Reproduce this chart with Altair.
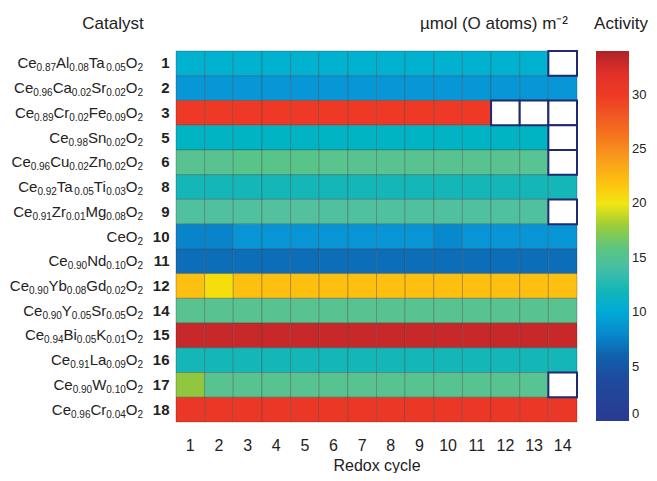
import altair as alt
import pandas as pd

# ---------------- data ----------------
ids = ["1", "2", "3", "5", "6", "8", "9", "10", "11", "12", "14", "15", "16", "17", "18"]
formulas = [
    "Ce_{0.87}Al_{0.08}Ta_{0.05}O_{2}",
    "Ce_{0.96}Ca_{0.02}Sr_{0.02}O_{2}",
    "Ce_{0.89}Cr_{0.02}Fe_{0.09}O_{2}",
    "Ce_{0.98}Sn_{0.02}O_{2}",
    "Ce_{0.96}Cu_{0.02}Zn_{0.02}O_{2}",
    "Ce_{0.92}Ta_{0.05}Ti_{0.03}O_{2}",
    "Ce_{0.91}Zr_{0.01}Mg_{0.08}O_{2}",
    "CeO_{2}",
    "Ce_{0.90}Nd_{0.10}O_{2}",
    "Ce_{0.90}Yb_{0.08}Gd_{0.02}O_{2}",
    "Ce_{0.90}Y_{0.05}Sr_{0.05}O_{2}",
    "Ce_{0.94}Bi_{0.05}K_{0.01}O_{2}",
    "Ce_{0.91}La_{0.09}O_{2}",
    "Ce_{0.90}W_{0.10}O_{2}",
    "Ce_{0.96}Cr_{0.04}O_{2}",
]
cycles = [1, 2, 3, 4, 5, 6, 7, 8, 9, 10, 11, 12, 13, 14]
N = None
activity = [
    [10.6, 10.6, 10.6, 10.6, 10.6, 10.6, 10.6, 10.6, 10.6, 10.6, 10.6, 10.6, 10.6, N],
    [8.7, 8.7, 8.7, 8.7, 8.7, 8.7, 8.7, 8.7, 8.7, 8.7, 8.7, 8.7, 8.7, 8.7],
    [30.2, 30.2, 30.2, 30.2, 30.2, 30.2, 30.2, 30.2, 30.2, 30.2, 30.2, N, N, N],
    [11.4, 11.4, 11.4, 11.4, 11.4, 11.4, 11.4, 11.4, 11.4, 11.4, 11.4, 11.4, 11.4, N],
    [15.4, 15.4, 15.6, 15.6, 15.6, 15.5, 15.4, 15.4, 15.4, 15.4, 15.4, 15.4, 15.3, N],
    [12.0, 12.0, 12.0, 12.0, 12.0, 12.0, 12.0, 12.0, 12.0, 12.0, 12.0, 12.0, 12.0, 12.0],
    [14.6, 14.6, 14.6, 14.8, 14.8, 14.6, 14.6, 14.6, 14.6, 14.6, 14.6, 14.6, 14.6, N],
    [7.8, 7.8, 8.6, 8.6, 8.6, 8.6, 8.6, 8.6, 8.6, 8.0, 8.6, 8.6, 8.6, 8.6],
    [6.6, 6.6, 6.6, 6.6, 6.6, 6.6, 6.6, 6.6, 6.6, 6.6, 6.6, 6.6, 6.6, 6.6],
    [22.0, 20.4, 22.0, 22.0, 22.0, 22.0, 22.0, 22.0, 22.0, 22.0, 22.0, 22.0, 22.0, 22.0],
    [15.4, 15.4, 15.4, 15.4, 15.4, 15.4, 15.4, 15.4, 15.4, 15.4, 15.4, 15.4, 15.4, 15.4],
    [33.0, 33.0, 33.0, 33.0, 33.0, 33.0, 33.0, 33.0, 33.0, 33.0, 33.0, 33.0, 33.0, 33.0],
    [12.0, 12.0, 12.0, 12.0, 12.0, 12.0, 12.0, 12.0, 12.0, 12.0, 12.0, 12.0, 12.0, 12.0],
    [17.6, 15.4, 15.4, 15.4, 15.4, 15.4, 15.4, 15.4, 15.4, 15.4, 15.4, 15.4, 15.3, N],
    [30.6, 30.6, 30.6, 30.6, 30.6, 30.6, 30.6, 30.6, 30.6, 30.6, 30.6, 30.6, 30.6, 30.6],
]
legend_ticks = [0, 5, 10, 15, 20, 25, 30]
headers = ["Catalyst", "µmol (O atoms) m⁻²", "Activity"]

# colour stops of the jet-like scale
stop_values = [0, 4, 6, 7.5, 9, 10.5, 12, 15, 17.5, 20, 21.5, 24, 27, 30, 32, 34]
stop_colors = ["#2a3a92", "#1d4c9f", "#0f62ae", "#0b7fc6", "#0a9ddb", "#06b0d2",
               "#14b6b8", "#58c19b", "#8cc63f", "#f1e611", "#fdc70f", "#f99e1b",
               "#f26522", "#ee3a24", "#e0302a", "#ae2227"]

# ---------------- label layout (Arial / Liberation Sans advance widths) ----------------
CW = {"A": 667, "B": 667, "C": 722, "D": 722, "E": 667, "F": 611, "G": 778, "H": 722,
      "I": 278, "K": 667, "L": 556, "M": 833, "N": 722, "O": 778, "S": 667, "T": 611,
      "W": 944, "Y": 667, "Z": 611,
      "a": 556, "b": 556, "d": 556, "e": 556, "g": 556, "i": 222, "l": 222, "n": 556,
      "r": 333, "u": 556, ".": 278}
for d in "0123456789":
    CW[d] = 556

MAIN, SUBS = 15, 10
RIGHT = -33


def parse(f):
    segs, buf, i = [], "", 0
    while i < len(f):
        if f[i] == "_" and f[i + 1] == "{":
            if buf:
                segs.append((buf, False))
                buf = ""
            j = f.index("}", i)
            segs.append((f[i + 2:j], True))
            i = j + 1
        else:
            buf += f[i]
            i += 1
    if buf:
        segs.append((buf, False))
    return segs


seg_rows = []
for cid, f in zip(ids, formulas):
    segs = parse(f)
    widths = [sum(CW[c] for c in t) * (SUBS if s else MAIN) / 1000 for t, s in segs]
    x = RIGHT - sum(widths)
    for (t, s), w in zip(segs, widths):
        seg_rows.append({"id": cid, "t": t, "sub": s, "px": x})
        x += w
seg = pd.DataFrame(seg_rows)

rows = []
for cid, vals in zip(ids, activity):
    for c, v in zip(cycles, vals):
        rows.append({"id": cid, "cycle": c, "activity": v})
df = pd.DataFrame(rows)

FONT = "Liberation Sans"
TXT = "#222"

y_enc = alt.Y("id:O", sort=ids,
              axis=alt.Axis(title=None, labelFontSize=15, labelFontWeight="bold",
                            labelColor=TXT, ticks=False, domain=False, labelPadding=7,
                            labelFont=FONT))
x_enc = alt.X("cycle:O",
              axis=alt.Axis(title="Redox cycle", labelAngle=0, labelFontSize=16,
                            labelColor=TXT, titleFontSize=16, titleFontWeight="normal",
                            titleColor=TXT, ticks=False, domain=False, labelPadding=15,
                            titlePadding=4, labelFont=FONT, titleFont=FONT))

cells = alt.Chart(df).transform_filter("datum.activity != null").mark_rect(
    stroke="#333", strokeWidth=0.6, strokeOpacity=0.5
).encode(
    x=x_enc, y=y_enc,
    color=alt.Color("activity:Q",
                    scale=alt.Scale(domain=stop_values, range=stop_colors),
                    legend=alt.Legend(title=None, gradientLength=370, gradientThickness=33,
                                      values=legend_ticks, labelFontSize=13,
                                      labelColor=TXT, labelFont=FONT, offset=19,
                                      labelOffset=3, direction="vertical", orient="right",
                                      gradientStrokeWidth=0)),
)

missing = alt.Chart(df).transform_filter("datum.activity == null").mark_rect(
    fill="white", stroke="#1f2a70", strokeWidth=2
).encode(x=alt.X("cycle:O"), y=alt.Y("id:O", sort=ids))

grid = alt.layer(cells, missing)

main_text = alt.Chart(seg).transform_filter("!datum.sub").mark_text(
    align="left", baseline="middle", fontSize=MAIN, font=FONT, color=TXT
).encode(x=alt.X("px:Q", scale=None, axis=None), y=alt.Y("id:O", sort=ids), text="t:N")

sub_text = alt.Chart(seg).transform_filter("datum.sub").mark_text(
    align="left", baseline="middle", fontSize=SUBS, font=FONT, color=TXT, dy=5
).encode(x=alt.X("px:Q", scale=None, axis=None), y=alt.Y("id:O", sort=ids), text="t:N")

hdr = pd.DataFrame({"t": headers})

h1 = alt.Chart(hdr.iloc[[0]]).mark_text(align="center", baseline="middle", fontSize=17,
                                        font=FONT, color=TXT).encode(
    x=alt.value(-63), y=alt.value(-27), text="t:N")
h2 = alt.Chart(hdr.iloc[[1]]).mark_text(align="right", baseline="middle", fontSize=17,
                                        font=FONT, color=TXT).encode(
    x=alt.value(392), y=alt.value(-27), text="t:N")
h3 = alt.Chart(hdr.iloc[[2]]).mark_text(align="center", baseline="middle", fontSize=17,
                                        font=FONT, color=TXT).encode(
    x=alt.value(445), y=alt.value(-27), text="t:N")

chart = alt.layer(grid, main_text, sub_text, h1, h2, h3).properties(
    width=641, height=465,
    autosize=alt.AutoSizeParams(type="fit", contains="padding"),
    padding={"left": 1, "top": 7, "right": 2, "bottom": 0},
).resolve_scale(x="independent").configure_view(stroke=None).configure_scale(
    bandPaddingInner=0)

chart.save("out.html", embed_options={"renderer": "svg", "actions": False})
